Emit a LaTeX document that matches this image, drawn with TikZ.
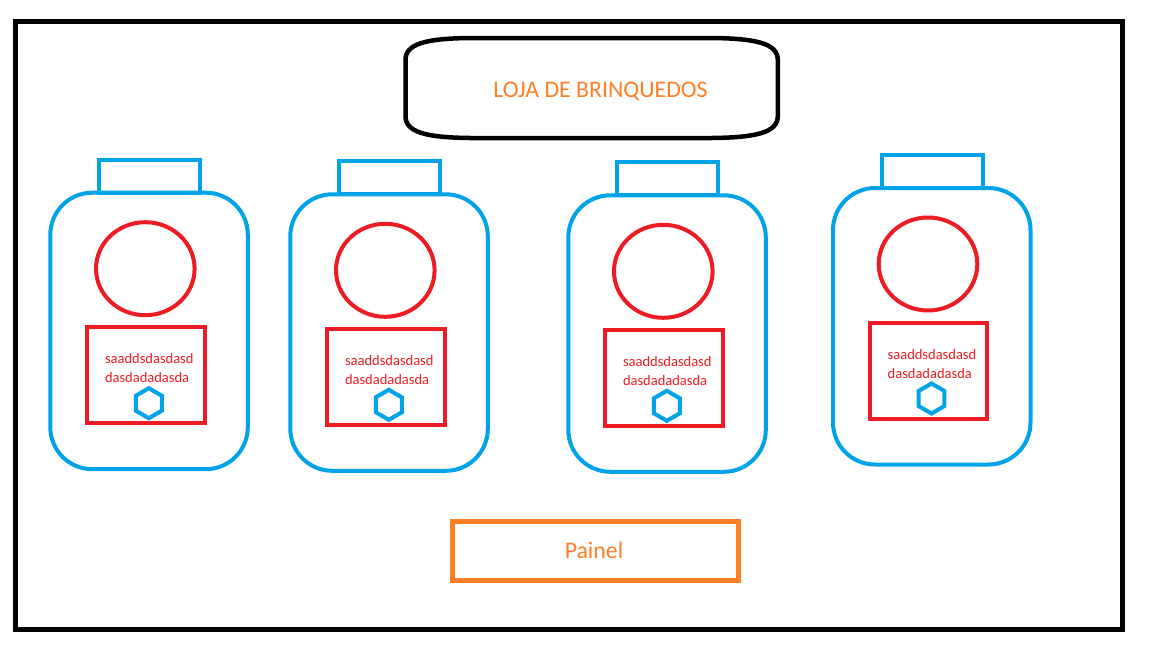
\documentclass[tikz,border=0pt]{standalone}
\usepackage{fontspec}
\setmainfont{Carlito}
\usetikzlibrary{shapes.geometric}
\definecolor{pblue}{HTML}{00A2E8}
\definecolor{pred}{HTML}{ED1C24}
\definecolor{porange}{HTML}{FF7F27}
\tikzset{
  every node/.style={outer sep=0pt},
  jarbody/.style={draw=pblue, line width=4pt, rectangle, rounded corners=42pt, minimum width=197.5pt, minimum height=276.5pt, inner sep=0pt, anchor=north west},
  jarlid/.style={draw=pblue, line width=4pt, rectangle, minimum width=101pt, minimum height=33pt, inner sep=0pt, anchor=south west},
  jarcirc/.style={draw=pred, line width=4pt, ellipse, minimum width=98.6pt, minimum height=93pt, inner sep=0pt},
  jarcard/.style={draw=pred, line width=4pt, rectangle, minimum width=117.7pt, minimum height=96pt, inner sep=0pt, anchor=north west},
  jarhex/.style={draw=pblue, line width=4pt, regular polygon, regular polygon sides=6, shape border rotate=30, minimum size=30pt, inner sep=0pt},
  cardtext/.style={text=pred, font=\fontsize{14.5}{17}\selectfont, inner sep=0pt, anchor=base west},
  bigtext/.style={text=porange, font=\fontsize{23.8}{28}\selectfont, inner sep=0pt, anchor=base},
}
\begin{document}
\begin{tikzpicture}[x=1pt,y=-1pt]
\useasboundingbox (0,0) rectangle (1152,648);
\fill[white] (0,0) rectangle (1152,648);
% outer frame
\draw[line width=5pt] (15.5,21.5) rectangle (1122.5,629);
% title
\draw[line width=4.5pt] (405.5,60) .. controls (405.5,44) and (425,38.5) .. (470,38) -- (712,38) .. controls (758,38.5) and (777.8,44) .. (777.8,60) -- (777.8,116) .. controls (777.8,132) and (758,137.5) .. (712,138) -- (470,138) .. controls (425,137.5) and (405.5,132) .. (405.5,116) -- cycle;
\node[bigtext] (title) at (600.5,97) {LOJA DE BRINQUEDOS};
% jars
\foreach \i/\L/\T in {1/50.3/192.7, 2/290.3/194.3, 3/568.3/195.3, 4/833/188} {
  \node[jarlid] (lid\i) at (\L+49,\T) {};
  \node[jarbody] (body\i) at (\L,\T) {};
  \node[jarcirc] (circ\i) at (\L+95,\T+76) {};
  \node[jarcard] (card\i) at (\L+36.5,\T+134.7) {};
  \node[cardtext] (txta\i) at (\L+54.7,\T+171) {saaddsdasdasd};
  \node[cardtext] (txtb\i) at (\L+54.7,\T+190) {dasdadadasda};
  \node[jarhex] (hex\i) at (\L+98.5,\T+210.5) {};
}
% panel
\node[draw=porange, line width=5pt, rectangle, minimum width=286pt, minimum height=59pt, inner sep=0pt, anchor=north west] (panel) at (452.5,521.5) {};
\node[bigtext] (paneltext) at (594,558) {Painel};
\end{tikzpicture}
\end{document}
